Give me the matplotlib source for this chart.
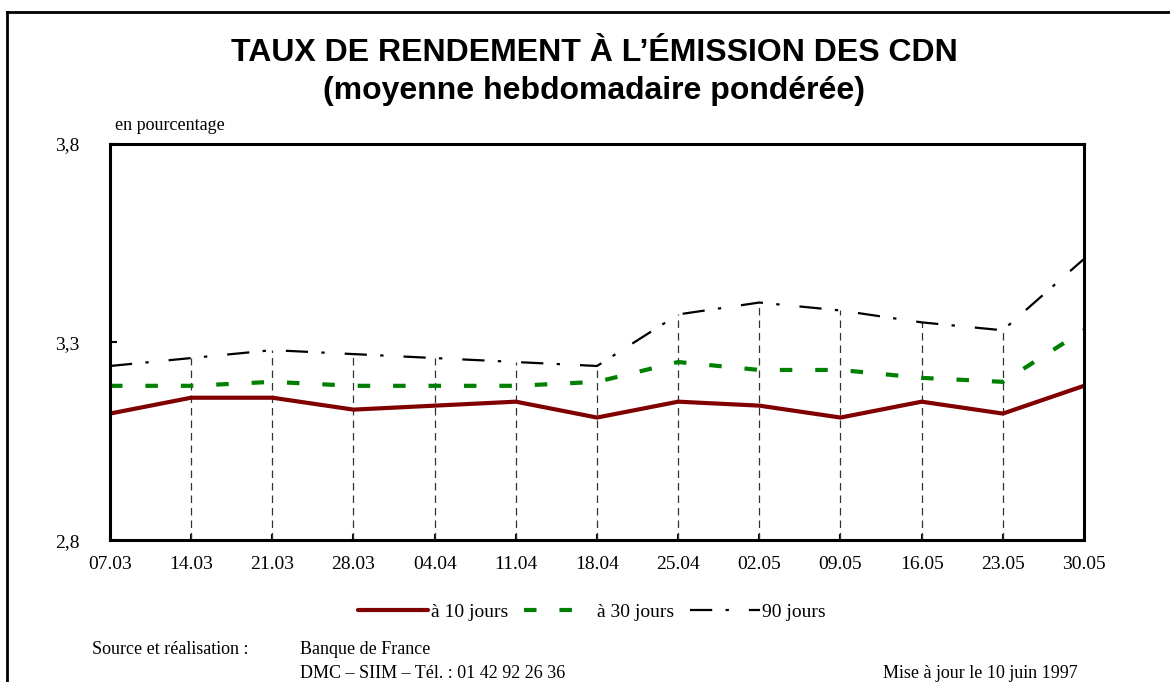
import matplotlib
matplotlib.use("Agg")
import matplotlib.pyplot as plt
from matplotlib.lines import Line2D

# data (percent)
dates = ["07.03", "14.03", "21.03", "28.03", "04.04", "11.04", "18.04",
         "25.04", "02.05", "09.05", "16.05", "23.05", "30.05"]
taux_10j = [3.12, 3.16, 3.16, 3.13, 3.14, 3.15, 3.11,
            3.15, 3.14, 3.11, 3.15, 3.12, 3.19]
taux_30j = [3.19, 3.19, 3.20, 3.19, 3.19, 3.19, 3.20,
            3.25, 3.23, 3.23, 3.21, 3.20, 3.33]
taux_90j = [3.24, 3.26, 3.28, 3.27, 3.26, 3.25, 3.24,
            3.37, 3.40, 3.38, 3.35, 3.33, 3.51]
y_ticks = [2.8, 3.3, 3.8]
y_labels = ["2,8", "3,3", "3,8"]

serif = "Liberation Serif"
sans = "Liberation Sans"

fig = plt.figure(figsize=(11.7, 6.82), dpi=100)
ax = fig.add_axes([0.094, 0.2075, 0.8325, 0.5815])

x = list(range(len(dates)))

# drop lines from the top series down to the axis
tops = [max(a, b, c) for a, b, c in zip(taux_10j, taux_30j, taux_90j)]
ax.vlines(x[1:-1], 2.8, tops[1:-1], colors="#333333", linewidth=0.9,
          linestyles=(0, (6, 4)))

ax.plot(x, taux_10j, color="#800000", linewidth=3.0, label="à 10 jours",
        solid_capstyle="round")
ax.plot(x, taux_30j, color="#008000", linewidth=3.0, dashes=(3, 5.5),
        label="à 30 jours")
ax.plot(x, taux_90j, color="black", linewidth=1.6, dashes=(10, 6, 1.5, 9),
        label="90 jours")

ax.set_xlim(0, len(dates) - 1)
ax.set_ylim(2.8, 3.8)
ax.set_yticks(y_ticks)
ax.set_yticklabels(y_labels, fontfamily=serif, fontsize=14)
ax.set_xticks(x)
ax.set_xticklabels(dates, fontfamily=serif, fontsize=14)
ax.tick_params(axis="y", direction="in", length=5, width=1.5, pad=22)
ax.tick_params(axis="x", direction="in", length=4, width=1.5, pad=11)
for sp in ax.spines.values():
    sp.set_linewidth(2.2)

ax.text(0.005, 1.025, "en pourcentage", transform=ax.transAxes,
        fontfamily=serif, fontsize=13, ha="left", va="bottom")

fig.text(0.508, 0.922, "TAUX DE RENDEMENT À L’ÉMISSION DES CDN",
         fontfamily=sans, fontweight="bold", fontsize=23, ha="center", va="center")
fig.text(0.508, 0.866, "(moyenne hebdomadaire pondérée)",
         fontfamily=sans, fontweight="bold", fontsize=23, ha="center", va="center")

leg = ax.legend(loc="center", bbox_to_anchor=(0.495, -0.18), ncol=3, frameon=False,
                prop={"family": serif, "size": 14}, handlelength=3.6,
                handletextpad=0.15, columnspacing=0.8)

fig.text(0.079, 0.047, "Source et réalisation :", fontfamily=serif, fontsize=13,
         ha="left", va="center")
fig.text(0.256, 0.047, "Banque de France", fontfamily=serif, fontsize=13,
         ha="left", va="center")
fig.text(0.256, 0.012, "DMC – SIIM – Tél. : 01 42 92 26 36", fontfamily=serif,
         fontsize=13, ha="left", va="center")
fig.text(0.921, 0.012, "Mise à jour le 10 juin 1997", fontfamily=serif, fontsize=13,
         ha="right", va="center")

# outer frame (top and left)
fig.add_artist(Line2D([0.006, 0.006], [0.0, 0.982], transform=fig.transFigure,
                      color="black", linewidth=2))
fig.add_artist(Line2D([0.006, 1.0], [0.982, 0.982], transform=fig.transFigure,
                      color="black", linewidth=2))

fig.savefig("out.png", dpi=100)
